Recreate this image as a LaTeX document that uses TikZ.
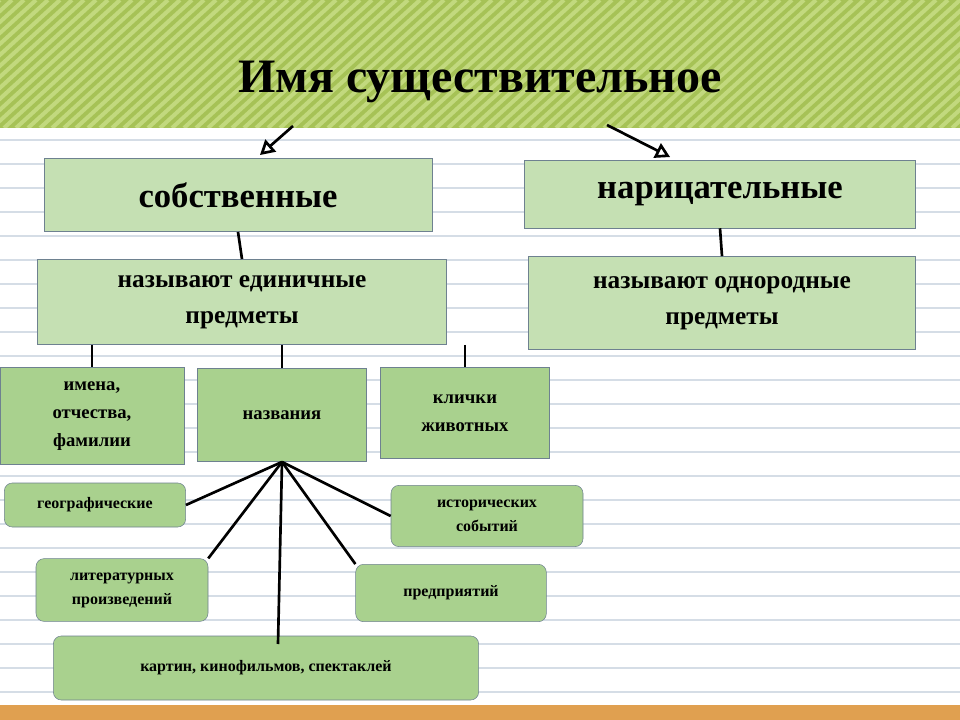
\documentclass[tikz,border=0pt]{standalone}
\usepackage{fontspec}
\setmainfont{Liberation Serif}
\usetikzlibrary{positioning,arrows}
\definecolor{boxpale}{HTML}{C5E0B3}
\definecolor{boxmid}{HTML}{A9D18E}
\definecolor{boxline}{HTML}{6E8190}
\definecolor{topband}{HTML}{A6C256}
\definecolor{topstripe}{HTML}{C2D97E}
\definecolor{ruled}{HTML}{D5DDE6}
\definecolor{bottomband}{HTML}{E0A050}
\tikzstyle{kind} = [rectangle, draw=boxline, fill=boxpale, text centered, font=\bfseries\fontsize{26}{30}\selectfont]
\tikzstyle{means} = [rectangle, draw=boxline, fill=boxpale, text centered, align=center, font=\bfseries\fontsize{19}{27}\selectfont]
\tikzstyle{group} = [rectangle, draw=boxline, fill=boxmid, text centered, align=center, font=\bfseries\fontsize{14}{21}\selectfont]
\tikzstyle{leaf} = [rectangle, rounded corners=6pt, draw=boxline, fill=boxmid, text centered, align=center, font=\bfseries\fontsize{12}{18}\selectfont]
\tikzstyle{link} = [line width=2pt]
\tikzstyle{arrow} = [line width=2pt,->,>=open triangle 60]
\begin{document}
\begin{tikzpicture}[x=0.75pt,y=-0.75pt]
\useasboundingbox (0,0) rectangle (960,720);
% background
\fill[white] (0,0) rectangle (960,720);
\foreach \y in {140,164,...,700} \draw[ruled, line width=1pt] (0,\y) -- (960,\y);
\fill[topband] (0,0) rectangle (960,128);
\begin{scope}
\clip (0,0) rectangle (960,128);
\foreach \x in {-140,-128,...,960} \draw[topstripe, line width=3pt] (\x,128) -- (\x+140,0);
\end{scope}
\fill[bottomband] (0,705) rectangle (960,720);
\node (title) at (480,82) {\bfseries\fontsize{36}{40}\selectfont Имя существительное};

% boxes
\node (proper) [kind, minimum width=291pt, minimum height=55pt] at (238,195) {собственные};
\node (common) [kind, minimum width=293pt, minimum height=51pt] at (720,194) {нарицательные};
\node (single) [means, minimum width=307pt, minimum height=64pt] at (242,302) {называют единичные\\предметы};
\node (uniform) [means, minimum width=290pt, minimum height=70pt] at (722,303) {называют однородные\\предметы};
\node (names) [group, minimum width=138pt, minimum height=73pt] at (92,416) {имена,\\отчества,\\фамилии};
\node (titles) [group, minimum width=127pt, minimum height=70pt] at (282,415) {названия};
\node (pets) [group, minimum width=127pt, minimum height=68pt] at (465,413) {клички\\животных};
\node (geo) [leaf, minimum width=136pt, minimum height=33pt] at (95,505) {географические};
\node (hist) [leaf, minimum width=144pt, minimum height=46pt] at (487,516) {исторических\\событий};
\node (lit) [leaf, minimum width=129pt, minimum height=47pt] at (122,590) {литературных\\произведений};
\node (firm) [leaf, minimum width=143pt, minimum height=43pt] at (451,593) {предприятий};
\node (art) [leaf, minimum width=319pt, minimum height=48pt] at (266,668) {картин, кинофильмов, спектаклей};

% connectors
\coordinate (tl) at (293,126);
\coordinate (tr) at (607,125);
\coordinate (artTop) at (278,644);
\draw [arrow] (tl) -- (260,155);
\draw [arrow] (tr) -- (670,157);
\draw [link] (proper.south) -- (single.north);
\draw [link] (common.south) -- (uniform.north);
\draw [link] (names.north |- single.south) -- (names.north);
\draw [link] (titles.north |- single.south) -- (titles.north);
\draw [link] (pets.north |- single.south) -- (pets.north);
\foreach \t in {geo.east, lit.north east, artTop, firm.north west, hist.west}
  \draw [link] (titles.south) -- (\t);
\end{tikzpicture}
\end{document}
